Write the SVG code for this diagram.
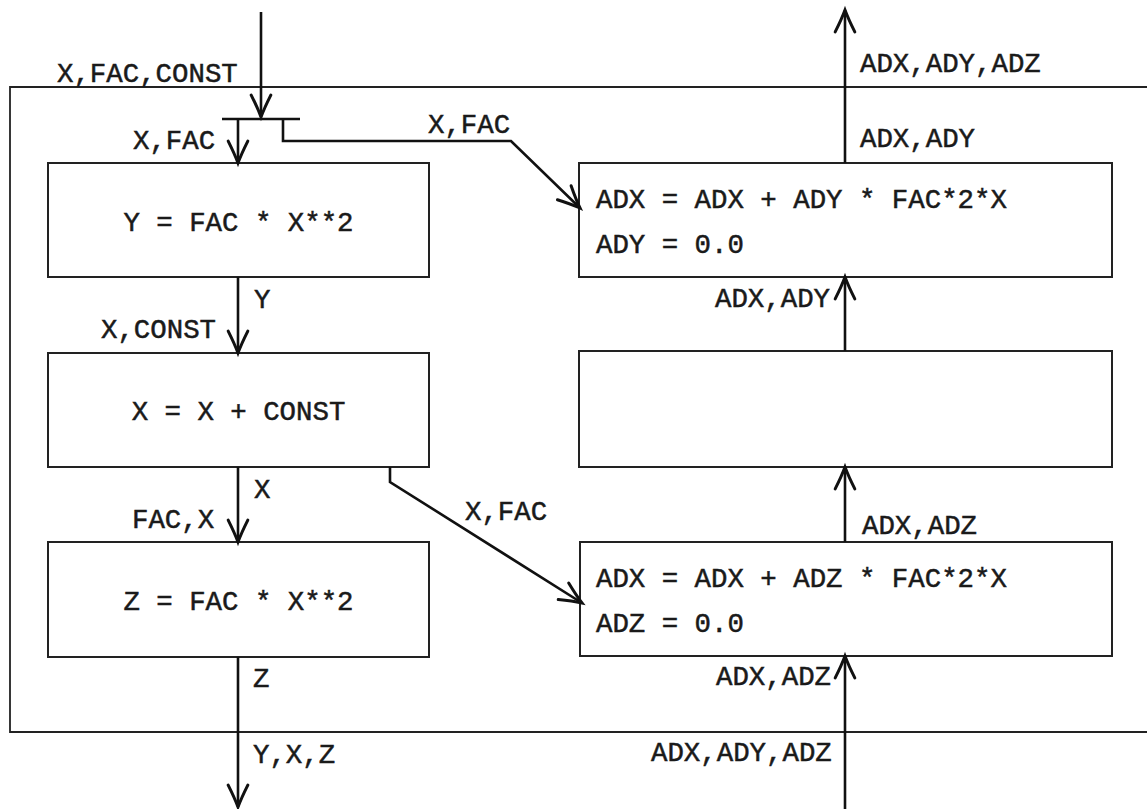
<svg xmlns="http://www.w3.org/2000/svg" width="1147" height="809" viewBox="0 0 1147 809">
<style>
  text { font-family: "Liberation Mono", "DejaVu Sans Mono", monospace; font-size: 27.4px; fill: #1a1a1a; stroke: #1a1a1a; stroke-width: 0.5px; }
  .box { fill: none; stroke: #222; stroke-width: 2; }
  .frame { fill: none; stroke: #222; stroke-width: 1.8; }
  .conn { fill: none; stroke: #111; stroke-width: 2.6; }
  .mid { text-anchor: middle; }
</style>
<defs>
  <marker id="arr" markerUnits="userSpaceOnUse" markerWidth="30" markerHeight="30" viewBox="-22 -12 26 24" refX="0" refY="0" orient="auto">
    <path d="M -19,-8.5 Q -8,-3 0,0 Q -8,3 -19,8.5" fill="none" stroke="#111" stroke-width="2.6" stroke-linecap="round"/>
  </marker>
</defs>
<rect width="1147" height="809" fill="#fff"/>
<g id="frame">
  <path class="frame" d="M1150,87 H10 V732 H1150"/>
</g>
<g id="node-y">
  <rect class="box" x="48" y="163" width="381" height="114"/>
  <text class="mid" x="238.5" y="231">Y = FAC * X**2</text>
</g>
<g id="node-x">
  <rect class="box" x="48" y="353" width="381" height="114"/>
  <text class="mid" x="238.5" y="420">X = X + CONST</text>
</g>
<g id="node-z">
  <rect class="box" x="48" y="542" width="381" height="115"/>
  <text class="mid" x="238.5" y="610">Z = FAC * X**2</text>
</g>
<g id="node-ady">
  <rect class="box" x="579" y="163" width="533" height="114"/>
  <text x="596" y="208">ADX = ADX + ADY * FAC*2*X</text>
  <text x="596" y="253">ADY = 0.0</text>
</g>
<g id="node-empty">
  <rect class="box" x="579" y="351" width="533" height="116"/>
</g>
<g id="node-adz">
  <rect class="box" x="580" y="542" width="532" height="114"/>
  <text x="596" y="587">ADX = ADX + ADZ * FAC*2*X</text>
  <text x="596" y="632">ADZ = 0.0</text>
</g>
<g id="connectors">
  <path class="conn" d="M261,12 V117" marker-end="url(#arr)"/>
  <path class="conn" d="M222,119 H300"/>
  <path class="conn" d="M238,119 V163" marker-end="url(#arr)"/>
  <path class="conn" d="M283,119 V141 H511 L580,208" marker-end="url(#arr)"/>
  <path class="conn" d="M238,277 V353" marker-end="url(#arr)"/>
  <path class="conn" d="M238,467 V542" marker-end="url(#arr)"/>
  <path class="conn" d="M390,467 V482 L582,603" marker-end="url(#arr)"/>
  <path class="conn" d="M238,657 V807" marker-end="url(#arr)"/>
  <path class="conn" d="M845,809 V656" marker-end="url(#arr)"/>
  <path class="conn" d="M845,542 V467" marker-end="url(#arr)"/>
  <path class="conn" d="M845,351 V277" marker-end="url(#arr)"/>
  <path class="conn" d="M845,163 V10" marker-end="url(#arr)"/>
</g>
<g id="labels">
  <text x="57" y="82">X,FAC,CONST</text>
  <text x="133" y="149">X,FAC</text>
  <text x="428" y="133">X,FAC</text>
  <text x="254" y="308">Y</text>
  <text x="101" y="338">X,CONST</text>
  <text x="254" y="498">X</text>
  <text x="132" y="528">FAC,X</text>
  <text x="465" y="520">X,FAC</text>
  <text x="253" y="687">Z</text>
  <text x="253" y="763">Y,X,Z</text>
  <text x="860" y="72">ADX,ADY,ADZ</text>
  <text x="860" y="147">ADX,ADY</text>
  <text x="715" y="307">ADX,ADY</text>
  <text x="862" y="534">ADX,ADZ</text>
  <text x="716" y="685">ADX,ADZ</text>
  <text x="651" y="761">ADX,ADY,ADZ</text>
</g>
</svg>
